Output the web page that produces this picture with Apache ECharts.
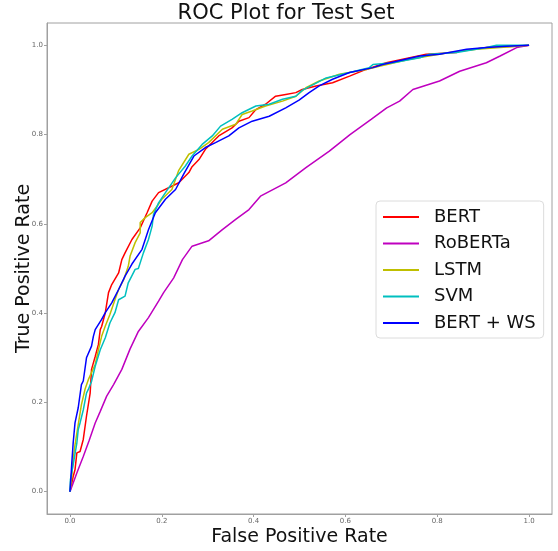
<!DOCTYPE html>
<html>
<head>
<meta charset="utf-8">
<script src="https://cdn.jsdelivr.net/npm/echarts@6/dist/echarts.min.js"></script>
<style>
html,body{margin:0;padding:0;background:#fff;}
#chart{width:558px;height:551px;}
</style>
</head>
<body>
<div id="chart"></div>
<script>
const seriesNames = ["BERT", "RoBERTa", "LSTM", "SVM", "BERT + WS"];
const tickValues = [0.0, 0.2, 0.4, 0.6, 0.8, 1.0];

const bert = [[0,0],[0.007,0.034],[0.011,0.049],[0.015,0.087],[0.022,0.09],[0.029,0.117],[0.036,0.169],[0.044,0.221],[0.047,0.274],[0.055,0.303],[0.062,0.33],[0.066,0.363],[0.069,0.37],[0.077,0.401],[0.084,0.446],[0.091,0.464],[0.106,0.49],[0.113,0.52],[0.12,0.535],[0.135,0.565],[0.153,0.591],[0.168,0.625],[0.179,0.651],[0.193,0.67],[0.215,0.681],[0.237,0.692],[0.259,0.715],[0.266,0.728],[0.281,0.744],[0.295,0.767],[0.324,0.797],[0.353,0.815],[0.368,0.83],[0.39,0.838],[0.405,0.856],[0.426,0.868],[0.448,0.886],[0.47,0.89],[0.492,0.894],[0.506,0.901],[0.536,0.909],[0.572,0.916],[0.609,0.931],[0.645,0.946],[0.689,0.961],[0.776,0.98],[0.842,0.984],[0.849,0.987],[0.907,0.995],[0.973,0.998],[1,1]];

const roberta = [[0,0],[0.015,0.042],[0.029,0.079],[0.042,0.115],[0.055,0.154],[0.066,0.18],[0.08,0.214],[0.095,0.24],[0.113,0.274],[0.131,0.32],[0.149,0.359],[0.171,0.39],[0.193,0.427],[0.204,0.446],[0.226,0.479],[0.245,0.52],[0.266,0.55],[0.302,0.562],[0.332,0.587],[0.361,0.61],[0.39,0.632],[0.415,0.662],[0.47,0.692],[0.514,0.726],[0.565,0.763],[0.61,0.8],[0.656,0.834],[0.69,0.86],[0.718,0.875],[0.747,0.901],[0.805,0.92],[0.849,0.942],[0.907,0.961],[0.937,0.976],[0.973,0.995],[1,1]];

const lstm = [[0,0],[0.004,0.034],[0.006,0.064],[0.011,0.105],[0.018,0.15],[0.025,0.195],[0.033,0.23],[0.04,0.251],[0.044,0.254],[0.055,0.285],[0.062,0.318],[0.069,0.348],[0.077,0.371],[0.087,0.397],[0.098,0.43],[0.106,0.453],[0.117,0.475],[0.127,0.505],[0.131,0.528],[0.142,0.558],[0.153,0.58],[0.153,0.603],[0.164,0.614],[0.179,0.625],[0.19,0.64],[0.2,0.655],[0.222,0.677],[0.237,0.72],[0.259,0.756],[0.281,0.767],[0.302,0.782],[0.332,0.812],[0.361,0.823],[0.375,0.845],[0.397,0.853],[0.426,0.864],[0.463,0.875],[0.492,0.886],[0.514,0.905],[0.543,0.92],[0.587,0.935],[0.645,0.946],[0.674,0.953],[0.74,0.969],[0.827,0.984],[0.886,0.991],[0.937,0.995],[0.973,0.998],[1,1]];

const svm = [[0,0],[0.001,0.027],[0.007,0.06],[0.015,0.109],[0.018,0.139],[0.022,0.154],[0.029,0.183],[0.036,0.221],[0.04,0.229],[0.047,0.247],[0.055,0.281],[0.066,0.318],[0.077,0.345],[0.087,0.378],[0.098,0.401],[0.106,0.43],[0.12,0.438],[0.127,0.468],[0.142,0.498],[0.149,0.5],[0.16,0.535],[0.171,0.565],[0.179,0.595],[0.182,0.621],[0.193,0.647],[0.208,0.67],[0.23,0.703],[0.251,0.729],[0.266,0.752],[0.288,0.778],[0.31,0.797],[0.328,0.819],[0.353,0.834],[0.375,0.849],[0.405,0.864],[0.434,0.868],[0.463,0.879],[0.492,0.886],[0.506,0.899],[0.558,0.927],[0.609,0.939],[0.652,0.95],[0.66,0.957],[0.703,0.961],[0.762,0.972],[0.783,0.98],[0.842,0.984],[0.907,0.995],[0.929,1.0],[1,1]];

const bertWs = [[0,0],[0.002,0.03],[0.004,0.064],[0.007,0.109],[0.011,0.154],[0.018,0.188],[0.025,0.24],[0.029,0.248],[0.036,0.3],[0.047,0.326],[0.051,0.348],[0.055,0.363],[0.069,0.386],[0.077,0.401],[0.091,0.423],[0.106,0.453],[0.12,0.483],[0.135,0.51],[0.157,0.543],[0.171,0.587],[0.186,0.625],[0.208,0.655],[0.23,0.677],[0.248,0.712],[0.27,0.752],[0.295,0.771],[0.317,0.782],[0.346,0.797],[0.368,0.815],[0.397,0.83],[0.434,0.841],[0.47,0.86],[0.499,0.877],[0.521,0.894],[0.543,0.909],[0.572,0.924],[0.609,0.939],[0.66,0.95],[0.681,0.957],[0.762,0.976],[0.805,0.98],[0.864,0.991],[0.907,0.995],[0.951,0.998],[1,1]];

const seriesData = [bert, roberta, lstm, svm, bertWs];
const colors = ["#ff0000", "#bf00bf", "#bfbf00", "#00bfbf", "#0000ff"];

const chart = echarts.init(document.getElementById('chart'), null, {renderer: 'canvas'});
const fontFam = "DejaVu Sans";
const axisCommon = {
  type: 'value', min: -0.05, max: 1.05,
  splitLine: {show: false},
  axisLine: {show: true, onZero: false, lineStyle: {color: '#a0a0a0', width: 1}},
  axisTick: {show: true, length: 3, customValues: tickValues, lineStyle: {color: '#a0a0a0'}},
  axisLabel: {customValues: tickValues, fontSize: 7, color: '#666', fontFamily: fontFam, margin: 4, formatter: v => v.toFixed(1)},
  nameLocation: 'middle',
  nameMoveOverlap: false,
  nameTextStyle: {fontSize: 19, color: '#111', fontFamily: fontFam}
};
chart.setOption({
  animation: false,
  backgroundColor: '#fff',
  title: {
    text: 'ROC Plot for Test Set', left: 281, top: -2, textAlign: 'center',
    textStyle: {fontSize: 21, fontWeight: 'normal', color: '#111', fontFamily: fontFam}
  },
  grid: {left: 47, right: 6, top: 23, bottom: 37, show: true, borderColor: '#a0a0a0', borderWidth: 1, containLabel: false, outerBoundsMode: 'none'},
  xAxis: Object.assign({}, axisCommon, {name: 'False Positive Rate', nameGap: 14}),
  yAxis: Object.assign({}, axisCommon, {name: 'True Positive Rate', nameGap: 13}),
  legend: {
    data: seriesNames,
    orient: 'vertical',
    left: 376, top: 201,
    icon: 'rect',
    itemWidth: 36, itemHeight: 2, itemGap: 8.5,
    padding: [7, 8, 6, 7],
    backgroundColor: '#fff', borderColor: '#dcdcdc', borderWidth: 1, borderRadius: 4,
    textStyle: {fontSize: 18, color: '#111', fontFamily: fontFam, padding: [0, 0, 0, 10], lineHeight: 18}
  },
  series: seriesNames.map((n, i) => ({
    name: n, type: 'line', data: seriesData[i], symbol: 'none', showSymbol: false,
    lineStyle: {color: colors[i], width: 1.5}, itemStyle: {color: colors[i]}, z: 2 + i
  }))
});
</script>
</body>
</html>
